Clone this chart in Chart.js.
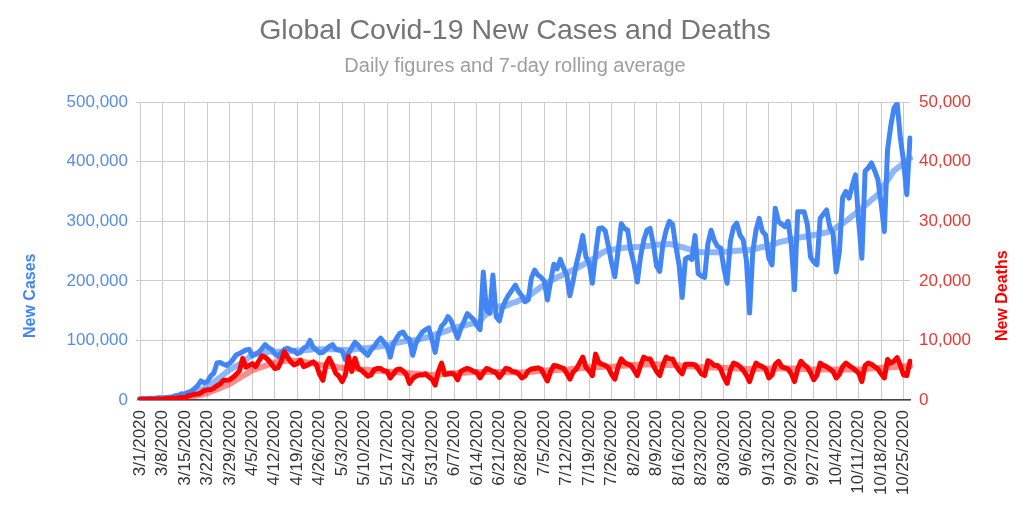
<!DOCTYPE html>
<html>
<head>
<meta charset="utf-8">
<script src="https://cdn.jsdelivr.net/npm/chart.js@4.4.1/dist/chart.umd.min.js"></script>
<style>
  html, body { margin: 0; padding: 0; background: #ffffff; }
  #c { display: block; }
</style>
</head>
<body>
<canvas id="c" width="1030" height="514"></canvas>
<script>
// ---------------- DATA ----------------
const startYear = 2020, startMonth = 2, startDay = 1; // 3/1/2020
const dayCount = 241; // 3/1/2020 .. 10/27/2020

const casesDaily = [
  1500,2000,1800,2400,2300,2800,3800,
  3500,4000,4500,4800,7000,8000,10500,
  10000,13000,15000,19000,24000,32000,29000,
  31000,40000,45000,62000,63000,60000,58000,
  62000,68000,76000,78000,81000,84000,85000,
  74000,77000,80000,86000,93000,88000,85000,
  78000,73000,79000,85000,87000,84000,83000,
  78000,80000,87000,90000,100000,88000,84000,
  79000,80000,85000,90000,93000,85000,84000,
  82000,68000,78000,88000,97000,92000,85000,
  80000,75000,84000,90000,98000,104000,97000,
  90000,72000,95000,104000,112000,114000,105000,
  102000,75000,95000,106000,114000,118000,121000,
  102000,80000,110000,124000,130000,140000,133000,
  118000,104000,120000,132000,145000,140000,135000,
  125000,118000,215000,150000,146000,210000,140000,
  133000,155000,168000,177000,185000,193000,182000,
  175000,165000,168000,205000,218000,210000,206000,
  200000,168000,200000,228000,220000,236000,222000,
  210000,175000,200000,228000,250000,276000,240000,
  230000,196000,245000,288000,289000,284000,258000,
  230000,207000,250000,296000,288000,285000,250000,
  228000,198000,240000,268000,285000,288000,262000,
  225000,216000,262000,285000,300000,295000,258000,
  228000,172000,237000,240000,236000,276000,212000,
  208000,206000,262000,285000,268000,258000,255000,
  221000,196000,266000,290000,297000,277000,269000,
  235000,146000,249000,285000,305000,283000,277000,
  238000,227000,322000,300000,295000,291000,300000,
  260000,185000,316000,316000,316000,295000,240000,
  232000,227000,305000,312000,319000,290000,280000,
  215000,249000,340000,350000,339000,360000,378000,
  300000,238000,384000,390000,398000,385000,370000,
  330000,283000,420000,460000,490000,498000,440000,
  400000,345000,440000
];

const casesAvg = [
  1500,1600,1700,1900,2000,2200,2400,
  2700,3100,3500,4000,4600,5200,5800,
  6500,8300,10200,12300,14600,17000,19400,
  22000,26000,30000,34000,38000,42500,47000,
  51000,54000,57000,60000,63000,67000,72000,
  76000,77000,78000,79000,80000,81000,81000,
  81000,81000,81000,81000,81500,82000,82500,
  83000,83000,83500,84000,84500,85000,85000,
  85000,85000,85000,85000,85000,85000,84500,
  84000,84000,84000,84500,85000,86000,86500,
  87000,87500,88000,89000,89500,90000,91000,
  92000,93000,95000,96000,97000,98000,99000,
  99500,100000,101000,102000,103500,105000,106000,
  108000,110000,111500,113000,115000,117000,119000,
  121000,122500,124000,125000,126500,127500,129000,
  130000,131000,140000,144000,146000,154000,156000,
  157000,158000,158000,160000,163000,164000,167000,
  169000,170000,174000,178000,182000,186000,190000,
  193000,196000,200000,203000,206000,208000,211000,
  213000,216000,218000,221000,224000,227000,230000,
  232000,236000,239000,243000,247000,250000,251000,
  252000,253000,254000,255000,255500,256000,256000,
  256500,257000,257500,258000,258500,259000,260000,
  260500,261000,261000,261500,262000,261000,259500,
  258000,256500,255000,253500,252000,250500,249000,
  248000,248000,248000,248000,248000,248000,248500,
  249000,249000,249500,250000,250500,251000,251000,
  251500,252000,253000,254000,255500,257000,258000,
  259500,261000,262500,264500,266000,267000,268500,
  269500,271000,272000,273000,274000,275000,276000,
  277000,278000,279000,280500,281500,283000,286000,
  289500,293000,296500,300000,304500,309000,313000,
  317500,322000,326500,331000,336000,340500,345000,
  353000,361000,369000,377000,385000,389000,393000,
  398000,402000,406000
];

const deathsDaily = [
  60,70,80,90,100,100,110,
  100,230,200,280,270,350,440,
  340,700,800,970,1000,1200,1600,
  1700,1700,2000,2400,2700,3300,3300,
  3400,3800,4300,4900,7000,5500,5800,
  6100,5600,6500,7400,7200,6700,6000,
  5300,5400,6500,8100,7200,6400,5900,
  6100,6700,5600,5800,6100,6400,5900,
  4300,3300,6000,7000,5900,4500,4000,
  3100,4200,7300,4800,7000,5300,5000,
  4500,4000,4200,5100,5300,5300,4900,
  4800,3700,4400,5100,5200,4900,4300,
  2800,3600,4000,4200,4200,4400,3900,
  3500,2500,4800,6200,4300,4400,4500,
  4300,3400,4800,5100,5300,5100,4800,
  4600,3700,4600,5300,5100,4800,4600,
  3800,4500,5300,5200,4800,4700,4400,
  3700,4000,4900,5200,5300,5400,5200,
  4200,3200,4800,5800,5700,5500,5300,
  4500,3500,4700,5200,6200,7200,5500,
  4900,4100,7700,6300,6000,5800,5400,
  4300,3500,5500,6900,6300,6000,5800,
  5000,4100,5800,7200,6900,6900,5800,
  4800,4100,5900,7200,6900,6900,5800,
  5000,4400,6000,6000,6000,5900,5200,
  4400,4100,6600,6300,5800,5800,5200,
  3800,2800,5000,6200,6000,5600,5000,
  4200,3100,4800,6200,5800,5600,5200,
  3700,4200,6000,6500,5600,5400,5200,
  4400,3100,5200,6500,5900,5500,4600,
  3400,4200,6200,5800,5600,5200,4800,
  3700,4300,5600,6200,5800,5400,5000,
  4500,3100,5800,6200,6000,5600,5200,
  4400,3700,6800,6200,6500,7100,5800,
  4200,4100,6500
];

const deathsAvg = [
  60,65,70,75,80,85,90,
  100,130,160,190,220,260,300,
  350,450,560,670,780,890,1010,
  1150,1370,1590,1820,2040,2260,2480,
  2700,3030,3360,3690,4020,4350,4680,
  5000,5190,5370,5560,5740,5930,6110,
  6300,6400,6500,6600,6600,6600,6600,
  6600,6500,6400,6300,6200,6100,6000,
  5900,5830,5760,5690,5610,5540,5470,
  5400,5360,5310,5270,5230,5190,5140,
  5100,5060,5010,4970,4930,4890,4840,
  4800,4760,4710,4670,4630,4590,4540,
  4500,4460,4410,4370,4330,4290,4240,
  4200,4240,4290,4330,4370,4410,4460,
  4500,4530,4560,4590,4610,4640,4670,
  4700,4700,4700,4700,4700,4700,4700,
  4700,4690,4670,4660,4640,4630,4610,
  4600,4650,4700,4750,4800,4850,4900,
  4950,4970,4990,5010,5040,5060,5080,
  5100,5160,5210,5270,5330,5390,5440,
  5500,5510,5530,5540,5560,5570,5590,
  5600,5640,5690,5730,5770,5810,5860,
  5900,5910,5930,5940,5960,5970,5990,
  6000,5970,5940,5910,5890,5860,5830,
  5800,5760,5710,5670,5630,5590,5540,
  5500,5490,5470,5460,5440,5430,5410,
  5400,5370,5340,5310,5290,5260,5230,
  5200,5210,5230,5240,5260,5270,5290,
  5300,5300,5300,5300,5300,5300,5300,
  5300,5270,5240,5210,5190,5160,5130,
  5100,5100,5100,5100,5100,5100,5100,
  5100,5100,5100,5100,5100,5100,5100,
  5100,5140,5190,5230,5270,5310,5360,
  5400,5440,5470,5510,5540,5580,5610,
  5650,5680,5700
];

const leftTicks = [0, 100000, 200000, 300000, 400000, 500000];
const rightTicks = [0, 10000, 20000, 30000, 40000, 50000];
const tickEveryDays = 7;

const chartTitle = "Global Covid-19 New Cases and Deaths";
const chartSubtitle = "Daily figures and 7-day rolling average";
const leftAxisTitle = "New Cases";
const rightAxisTitle = "New Deaths";

// category labels (one per day)
const dayLabels = [];
for (let i = 0; i < dayCount; i++) {
  const d = new Date(Date.UTC(startYear, startMonth, startDay + i));
  dayLabels.push((d.getUTCMonth() + 1) + "/" + d.getUTCDate() + "/" + d.getUTCFullYear());
}

// ---------------- STYLE ----------------
const FONT = '"Liberation Sans", Arial, Helvetica, sans-serif';
const fmt = v => Number(v).toLocaleString('en-US');

const axisTitlePlugin = {
  id: 'axisTitles',
  afterDraw(chart) {
    const ctx = chart.ctx;
    const area = chart.chartArea;
    const midY = area.top + (area.bottom - area.top) * 0.65;
    ctx.save();
    ctx.font = 'bold 16px ' + FONT;
    ctx.textAlign = 'center';
    ctx.textBaseline = 'middle';
    ctx.fillStyle = '#4285f4';
    ctx.translate(31, midY);
    ctx.rotate(-Math.PI / 2);
    ctx.fillText(leftAxisTitle, 0, 0);
    ctx.restore();
    ctx.save();
    ctx.font = 'bold 16px ' + FONT;
    ctx.textAlign = 'center';
    ctx.textBaseline = 'middle';
    ctx.fillStyle = '#ff0000';
    ctx.translate(1003, midY);
    ctx.rotate(-Math.PI / 2);
    ctx.fillText(rightAxisTitle, 0, 0);
    ctx.restore();
  }
};

new Chart(document.getElementById('c'), {
  type: 'line',
  data: {
    labels: dayLabels,
    datasets: [
      { label: 'New Cases', data: casesDaily, yAxisID: 'yL', borderColor: '#4285f4', borderWidth: 5, order: 3 },
      { label: 'New Cases (7-day avg)', data: casesAvg, yAxisID: 'yL', borderColor: 'rgba(66,133,244,0.6)', borderWidth: 6, order: 4 },
      { label: 'New Deaths', data: deathsDaily, yAxisID: 'yR', borderColor: '#ff0000', borderWidth: 5, order: 1 },
      { label: 'New Deaths (7-day avg)', data: deathsAvg, yAxisID: 'yR', borderColor: 'rgba(255,0,0,0.45)', borderWidth: 6, order: 2 }
    ]
  },
  options: {
    responsive: false,
    animation: false,
    layout: { padding: 0 },
    elements: {
      point: { radius: 0, hoverRadius: 0 },
      line: { tension: 0, borderJoinStyle: 'round', borderCapStyle: 'round', fill: false }
    },
    plugins: {
      legend: { display: false },
      tooltip: { enabled: false },
      title: {
        display: true, text: chartTitle, color: '#757575',
        font: { size: 28.5, family: FONT, weight: 'normal' },
        padding: { top: 14, bottom: 0 }
      },
      subtitle: {
        display: true, text: chartSubtitle, color: '#9e9e9e',
        font: { size: 20, family: FONT, weight: 'normal' },
        padding: { top: 6, bottom: 24 }
      }
    },
    scales: {
      x: {
        type: 'category',
        offset: false,
        grid: { color: '#cccccc', lineWidth: 1, drawTicks: false },
        border: { display: true, color: '#444444', width: 1.5 },
        ticks: {
          autoSkip: false, maxRotation: 90, minRotation: 90, padding: 10,
          color: '#333333', font: { size: 17, family: FONT }
        },
        afterBuildTicks: s => { s.ticks = s.ticks.filter(t => t.value % tickEveryDays === 0); },
        afterFit: s => { s.height = 114; }
      },
      yL: {
        type: 'linear', position: 'left', min: 0, max: 500000,
        afterBuildTicks: s => { s.ticks = leftTicks.map(v => ({ value: v })); },
        ticks: { color: '#5a8ce6', font: { size: 17, family: FONT }, padding: 8, callback: fmt },
        grid: { color: '#cccccc', lineWidth: 1, drawTicks: true, tickLength: 4 },
        border: { display: false },
        afterFit: s => { s.width = 140; }
      },
      yR: {
        type: 'linear', position: 'right', min: 0, max: 50000,
        afterBuildTicks: s => { s.ticks = rightTicks.map(v => ({ value: v })); },
        ticks: { color: '#e53935', font: { size: 17, family: FONT }, padding: 9, callback: fmt },
        grid: { drawOnChartArea: false, drawTicks: false },
        border: { display: false },
        afterFit: s => { s.width = 120; }
      }
    }
  },
  plugins: [axisTitlePlugin]
});
</script>
</body>
</html>
